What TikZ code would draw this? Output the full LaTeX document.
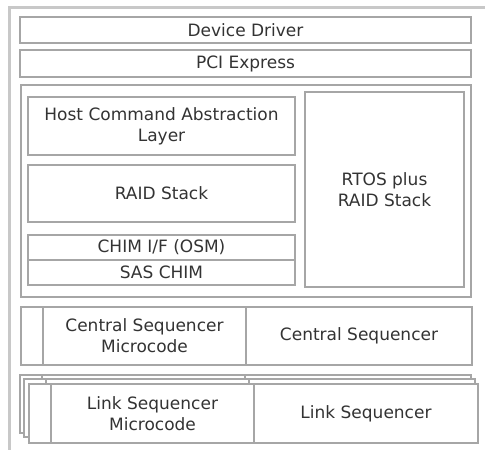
\documentclass[tikz,border=0pt]{standalone}
\usepackage{fontspec}
\setmainfont{DejaVu Sans}
\definecolor{boxline}{HTML}{A6A6A6}
\definecolor{frameline}{HTML}{C8C8C8}
\definecolor{txt}{HTML}{333333}
\tikzset{
  blk/.style={draw=boxline, line width=1.8pt, fill=white, rectangle, inner sep=0pt,
    align=center, text=txt, font=\fontsize{17}{21}\selectfont},
}
\begin{document}
\begin{tikzpicture}[x=1pt,y=-1pt]
\useasboundingbox (0,0) rectangle (485,450);
\clip (0,0) rectangle (485,450);
\fill[white] (0,0) rectangle (485,450);
\draw[frameline, line width=3pt] (9,7) rectangle (500,470);
% top layers
\node[blk, minimum width=451pt, minimum height=26pt] (dd) at (245.5,30) {Device Driver};
\node[blk, minimum width=451pt, minimum height=27pt] (pci) at (245.5,63.5) {PCI Express};
\node[blk, minimum width=450pt, minimum height=212pt] (main) at (246,191) {};
\node[blk, minimum width=267pt, minimum height=58pt] (hcal) at (161.5,126) {Host Command Abstraction\\Layer};
\node[blk, minimum width=267pt, minimum height=57pt] (raid) at (161.5,193.5) {RAID Stack};
\node[blk, minimum width=267pt, minimum height=25pt] (chim) at (161.5,247.5) {CHIM I/F (OSM)};
\node[blk, minimum width=267pt, minimum height=25pt] (sas) at (161.5,272.5) {SAS CHIM};
\node[blk, minimum width=159pt, minimum height=195pt] (rtos) at (384.5,189.5) {RTOS plus\\RAID Stack};
% central sequencer
\node[blk, minimum width=22pt, minimum height=58pt] (csb) at (32,336) {};
\node[blk, minimum width=203pt, minimum height=58pt] (csm) at (144.5,336) {Central Sequencer\\Microcode};
\node[blk, minimum width=226pt, minimum height=58pt] (cs) at (359,336) {Central Sequencer};
% link sequencer stack (back)
\node[blk, minimum width=22pt, minimum height=58pt] (lb1) at (31,404) {};
\node[blk, minimum width=203pt, minimum height=58pt] (lm1) at (143.5,404) {};
\node[blk, minimum width=226pt, minimum height=58pt] (ls1) at (358,404) {};
% middle
\node[blk, minimum width=22pt, minimum height=58pt] (lb2) at (35,408) {};
\node[blk, minimum width=203pt, minimum height=58pt] (lm2) at (147.5,408) {};
\node[blk, minimum width=226pt, minimum height=58pt] (ls2) at (362,408) {};
% front
\node[blk, minimum width=22pt, minimum height=59pt] (lb3) at (40,413.5) {};
\node[blk, minimum width=203pt, minimum height=59pt] (lm3) at (152.5,413.5) {Link Sequencer\\Microcode};
\node[blk, minimum width=224pt, minimum height=59pt] (ls3) at (366,413.5) {Link Sequencer};
\end{tikzpicture}
\end{document}
